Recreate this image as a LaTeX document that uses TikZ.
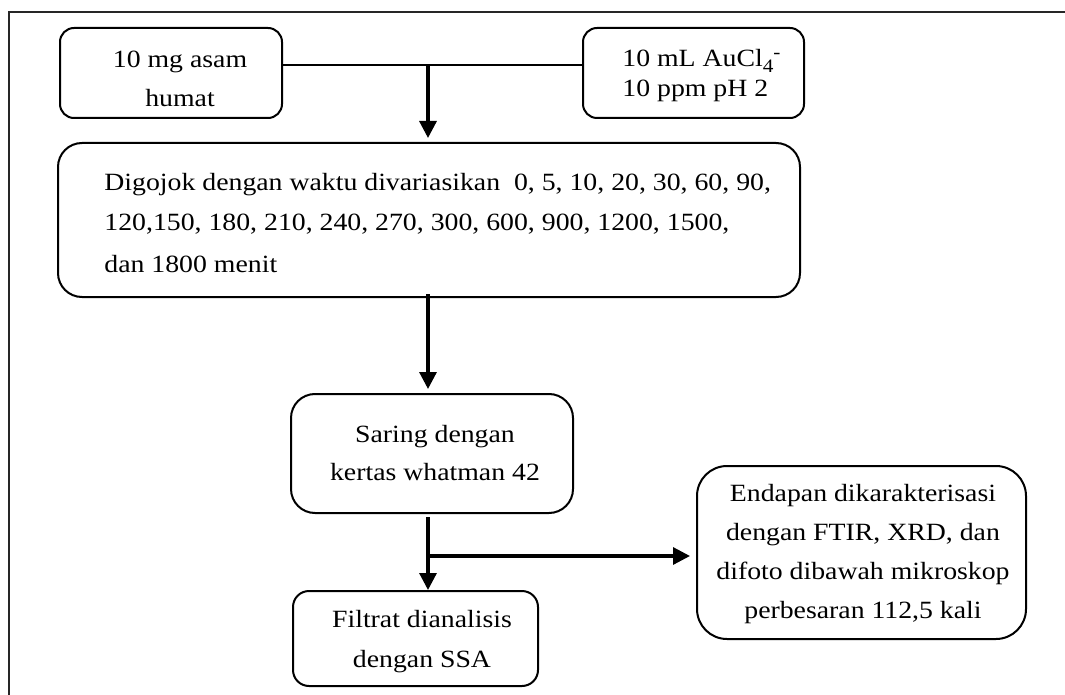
\documentclass[tikz,border=0pt]{standalone}
\usepackage{fontspec}
\setmainfont{Liberation Serif}[FakeStretch=1.12]
\usetikzlibrary{arrows.meta}
\begin{document}
\begin{tikzpicture}[x=0.5pt,y=-0.5pt,
  box/.style={draw,line width=1pt,rounded corners=#1,inner sep=0pt},
  txt/.style={inner sep=0pt},
  arr/.style={line width=1.6pt,-{Triangle[width=8.5pt,length=8.5pt]}},
  conn/.style={line width=0.9pt},
  frame/.style={line width=0.8pt,black!85}]
\useasboundingbox (0,0) rectangle (1065,695);
\coordinate (f0) at (9,695);
\coordinate (f1) at (9,12);
\coordinate (f2) at (1065,12);
\draw[frame] (f0) -- (f1) -- (f2);

\node[box=7pt,minimum width=111pt,minimum height=45pt] (b1) at (171,73) {};
\node[box=7pt,minimum width=110.5pt,minimum height=45pt] (b2) at (693.5,73) {};
\node[box=12pt,minimum width=371pt,minimum height=77pt] (b3) at (429,220) {};
\node[box=12pt,minimum width=141pt,minimum height=59.5pt] (b4) at (432,453.5) {};
\node[box=8pt,minimum width=122.5pt,minimum height=47.5pt] (b5) at (415.5,638.5) {};
\node[box=15pt,minimum width=164.5pt,minimum height=86.5pt] (b6) at (861.5,552.5) {};

% base anchor = baseline of the last line
\node[txt,anchor=base,align=center,font=\fontsize{12.4}{19.5}\selectfont] (t1) at (180,107) {10 mg asam\\humat};
\node[txt,anchor=base west,align=left,font=\fontsize{12.4}{15}\selectfont] (t2) at (622,97)
  {10 mL AuCl\raisebox{-0.45ex}{\fontsize{9.5}{10}\selectfont 4}\raisebox{0.75ex}{\fontsize{9.5}{10}\selectfont -}\\10 ppm pH 2};
\node[txt,anchor=base west,align=left,font=\fontsize{12.4}{20.5}\selectfont] (t3) at (104,272)
  {Digojok dengan waktu divariasikan\ \ 0, 5, 10, 20, 30, 60, 90,\\120,150, 180, 210, 240, 270, 300, 600, 900, 1200, 1500,\\dan 1800 menit};
\node[txt,anchor=base,align=center,font=\fontsize{12.4}{19}\selectfont] (t4) at (435,480) {Saring dengan\\kertas whatman 42};
\node[txt,anchor=base,align=center,font=\fontsize{12.4}{20}\selectfont] (t5) at (422,667) {Filtrat dianalisis\\dengan SSA};
\node[txt,anchor=base,align=center,font=\fontsize{12.4}{19.4}\selectfont] (t6) at (863,618)
  {Endapan dikarakterisasi\\dengan FTIR, XRD, dan\\difoto dibawah mikroskop\\perbesaran 112,5 kali};

\coordinate (j1) at (428,65);
\coordinate (j2) at (428,294);
\coordinate (j3) at (428,517);
\coordinate (j4) at (428,556);
\draw[conn] (b1.east |- j1) -- (b2.west |- j1);
\draw[arr] (j1) -- ([yshift=2pt]b3.north -| j1);
\draw[arr] (j2) -- ([yshift=2pt]b4.north -| j2);
\draw[arr] (j3) -- (b5.north -| j3);
\draw[arr] (j4) -- ([xshift=-3pt]b6.west |- j4);
\end{tikzpicture}
\end{document}
